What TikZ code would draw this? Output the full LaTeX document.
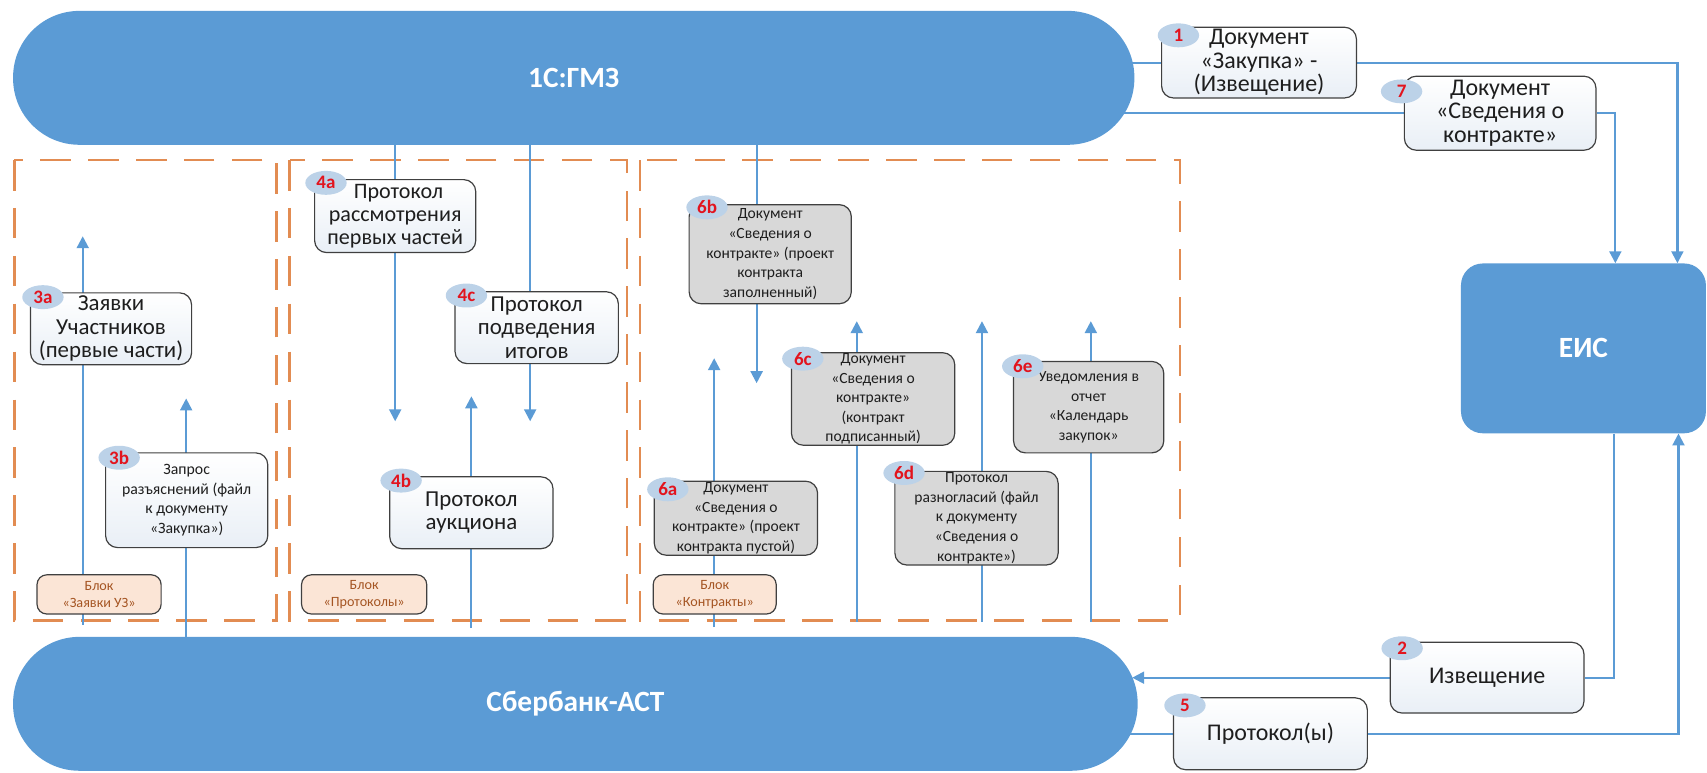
\documentclass[tikz,border=0pt]{standalone}
\usepackage{fontspec}
\setmainfont{Carlito}
\usetikzlibrary{arrows.meta,calc,shapes.geometric}
\pgfdeclarelayer{bg}
\pgfsetlayers{bg,main}
\definecolor{cblue}{RGB}{91,155,213}
\definecolor{cline}{RGB}{91,155,213}
\definecolor{cborder}{RGB}{64,64,64}
\definecolor{cgray}{RGB}{216,216,216}
\definecolor{cpeach}{RGB}{251,229,214}
\definecolor{cbrown}{RGB}{165,85,35}
\definecolor{corange}{RGB}{226,140,82}
\definecolor{cbadge}{RGB}{188,210,232}
\definecolor{cred}{RGB}{226,20,30}
\definecolor{cwbot}{RGB}{233,239,246}
\definecolor{ctext}{RGB}{30,30,30}
\begin{document}
\begin{tikzpicture}[x=1pt,y=-1pt,
  capsule/.style={fill=cblue, rounded corners=61pt, text=white, font=\fontsize{27}{30}\selectfont\bfseries, inner sep=0pt},
  eisbox/.style={fill=cblue, rounded corners=20pt, text=white, font=\fontsize{27}{30}\selectfont\bfseries, inner sep=0pt},
  wbox/.style={draw=cborder, line width=1.1pt, rounded corners=11pt, top color=white, bottom color=cwbot, align=center, inner sep=0pt, text=ctext, font=\fontsize{21}{21.5}\selectfont},
  wlbox/.style={wbox, font=\fontsize{22}{21.5}\selectfont},
  wsbox/.style={wbox, font=\fontsize{14.5}{18}\selectfont},
  gbox/.style={draw=cborder, line width=1.1pt, rounded corners=11pt, fill=cgray, align=center, inner sep=0pt, text=ctext, font=\fontsize{14.3}{18}\selectfont},
  blok/.style={draw=cborder, line width=1.1pt, rounded corners=9pt, fill=cpeach, text=cbrown, align=center, inner sep=0pt, font=\fontsize{13}{16}\selectfont},
  badge/.style={ellipse, fill=cbadge, minimum width=38pt, minimum height=22pt, inner sep=0pt, text=cred, font=\fontsize{17.5}{17.5}\selectfont\bfseries},
  region/.style={draw=corange, line width=2.5pt, dash pattern=on 28pt off 16pt},
  conn/.style={draw=cline, line width=2pt},
  arr/.style={conn, -{Triangle[length=11pt,width=11pt]}}
]
\useasboundingbox (0,0) rectangle (1568,710);

% systems
\node[capsule, minimum width=1030pt, minimum height=123pt] (gmz) at (527,71.5) {1С:ГМЗ};
\node[capsule, minimum width=1033pt, minimum height=123pt] (sber) at (528.5,646.5) {Сбербанк-АСТ};
\node[eisbox, minimum width=225pt, minimum height=156pt] (eis) at (1454.5,320) {ЕИС};

% boxes
\node[wbox, minimum width=148pt, minimum height=66pt] (b3a) at (102,302) {Заявки\\Участников\\(первые части)};
\node[wsbox, minimum width=149pt, minimum height=87pt] (b3b) at (171.5,459.5) {Запрос\\разъяснений (файл\\к документу\\«Закупка»)};
\node[wbox, font=\fontsize{20.3}{21.5}\selectfont, minimum width=148pt, minimum height=67pt] (b4a) at (363,198.5) {\hspace*{6pt}Протокол\\рассмотрения\\первых частей};
\node[wbox, minimum width=150pt, minimum height=66pt] (b4c) at (493,301) {Протокол\\подведения\\итогов};
\node[wbox, minimum width=150pt, minimum height=66pt] (b4b) at (433,471) {Протокол\\аукциона};
\node[gbox, minimum width=149pt, minimum height=91pt] (b6b) at (707.5,233.5) {Документ\\«Сведения о\\контракте» (проект\\контракта\\заполненный)};
\node[gbox, minimum width=150pt, minimum height=85pt] (b6c) at (802,366.5) {Документ\\«Сведения о\\контракте»\\(контракт\\подписанный)};
\node[gbox, minimum width=138pt, minimum height=84pt] (b6e) at (1000,374) {Уведомления в\\отчет\\«Календарь\\закупок»};
\node[gbox, minimum width=150pt, minimum height=68pt] (b6a) at (676,476) {Документ\\«Сведения о\\контракте» (проект\\контракта пустой)};
\node[gbox, minimum width=150pt, minimum height=86pt] (b6d) at (897,476) {Протокол\\разногласий (файл\\к документу\\«Сведения о\\контракте»)};
\node[wlbox, minimum width=179pt, minimum height=65pt] (b1) at (1156.5,57.5) {Документ\\«Закупка» -\\(Извещение)};
\node[wlbox, minimum width=176pt, minimum height=68pt] (b7) at (1378,104) {Документ\\«Сведения о\\контракте»};
\node[wlbox, minimum width=178pt, minimum height=65pt] (b2) at (1366,622.5) {Извещение};
\node[wlbox, minimum width=178pt, minimum height=66pt] (b5) at (1167,674) {Протокол(ы)};
\node[blok, minimum width=114pt, minimum height=36pt] (k1) at (91,546) {Блок\\«Заявки УЗ»};
\node[blok, minimum width=115pt, minimum height=36pt] (k2) at (334.5,546) {Блок\\«Протоколы»};
\node[blok, minimum width=113pt, minimum height=36pt] (k3) at (656.5,546) {Блок\\«Контракты»};

% badges
\node[badge] (n3a) at ($(b3a.north west)+(12,4.5)$) {3a};
\node[badge] (n3b) at ($(b3b.north west)+(13,5)$) {3b};
\node[badge] (n4a) at ($(b4a.north west)+(11,3.5)$) {4a};
\node[badge] (n4c) at ($(b4c.north west)+(11,4)$) {4c};
\node[badge] (n4b) at ($(b4b.north west)+(11,4)$) {4b};
\node[badge] (n6b) at ($(b6b.north west)+(17,3)$) {6b};
\node[badge] (n6c) at ($(b6c.north west)+(11,6)$) {6c};
\node[badge] (n6e) at ($(b6e.north west)+(9,5)$) {6e};
\node[badge] (n6a) at ($(b6a.north west)+(13,8)$) {6a};
\node[badge] (n6d) at ($(b6d.north west)+(9,2)$) {6d};
\node[badge] (n1) at ($(b1.north west)+(16,8)$) {1};
\node[badge] (n7) at ($(b7.north west)+(-2,14.5)$) {7};
\node[badge] (n2) at ($(b2.north west)+(11.5,6)$) {2};
\node[badge] (n5) at ($(b5.north west)+(11,7.5)$) {5};

% arrow end points
\coordinate (h3a) at (76,217); \coordinate (s3a) at (76,574);
\coordinate (h3b) at (171,366);
\coordinate (h4a) at (363,387);
\coordinate (h4c) at (487,387);
\coordinate (h4b) at (433,364); \coordinate (s4b) at (433,577);
\coordinate (h6b) at (695,352);
\coordinate (h6a) at (656,329); \coordinate (s6a) at (656,576);
\coordinate (h6c) at (787,295); \coordinate (s6c) at (787,571);
\coordinate (h6d) at (902,295); \coordinate (s6d) at (902,571);
\coordinate (h6e) at (1002,295); \coordinate (s6e) at (1002,571);
\coordinate (e2tip) at (1040,622.5);

\begin{pgfonlayer}{bg}
\draw[region] (13,147) rectangle (254,570);
\draw[region] (266,147) rectangle (576,570);
\draw[region] (588,147) rectangle (1084,570);

\draw[arr] (s3a) -- (h3a);
\draw[arr] (sber.north -| h3b) -- (h3b);
\draw[arr] (gmz.south -| h4a) -- (h4a);
\draw[arr] (gmz.south -| h4c) -- (h4c);
\draw[arr] (s4b) -- (h4b);
\draw[arr] (gmz.south -| h6b) -- (h6b);
\draw[arr] (s6a) -- (h6a);
\draw[arr] (s6c) -- (h6c);
\draw[arr] (s6d) -- (h6d);
\draw[arr] (s6e) -- (h6e);

\draw[conn] (gmz.center |- b1.west) -- (b1.west);
\draw[arr] (b1.east) -| ($(eis.north west)+(199,0)$);
\draw[conn] (gmz.center |- b7.west) -- (b7.west);
\draw[arr] (b7.east) -| ($(eis.north west)+(142,0)$);
\draw[conn] ($(eis.south west)+(141,0)$) |- (b2.east);
\draw[arr] (b2.west) -- (e2tip);
\draw[conn] (sber.center |- b5.west) -- (b5.west);
\draw[arr] (b5.east) -| ($(eis.south west)+(200,0)$);
\end{pgfonlayer}
\end{tikzpicture}
\end{document}
